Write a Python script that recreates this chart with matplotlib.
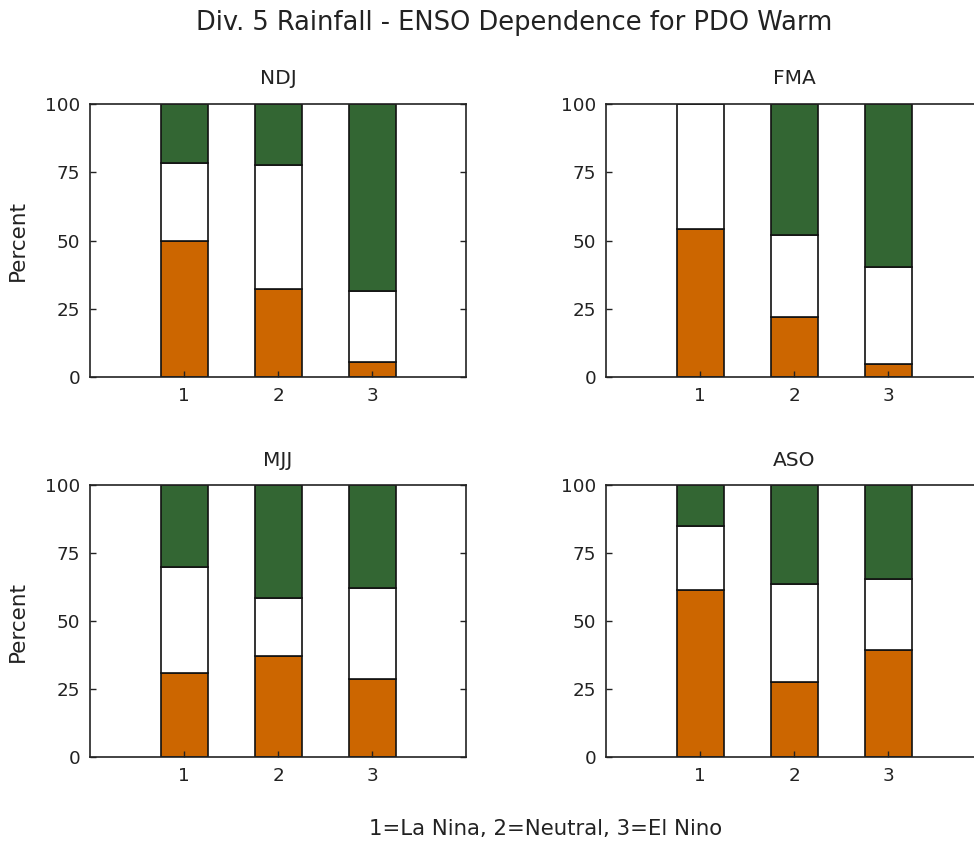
import matplotlib
matplotlib.use("Agg")
import matplotlib.pyplot as plt
import numpy as np

plt.rcParams['font.family'] = ['DejaVu Sans']

categories = [1, 2, 3]
seasons = ["NDJ", "FMA", "MJJ", "ASO"]
# below normal (orange), near normal (white), above normal (green)
below = {"NDJ": [50.0, 32.1, 5.6], "FMA": [54.3, 21.8, 4.9],
         "MJJ": [30.7, 37.2, 28.5], "ASO": [61.5, 27.7, 39.5]}
normal = {"NDJ": [28.5, 45.7, 25.8], "FMA": [45.7, 30.2, 35.5],
          "MJJ": [39.0, 21.4, 33.8], "ASO": [23.5, 36.0, 25.8]}
above = {"NDJ": [21.5, 22.2, 68.6], "FMA": [0.0, 48.0, 59.6],
         "MJJ": [30.3, 41.4, 37.7], "ASO": [15.0, 36.3, 34.7]}
yticks = [0, 25, 50, 75, 100]

c_below = "#cc6600"
c_normal = "#ffffff"
c_above = "#336633"
txt = "#222222"

fig = plt.figure(figsize=(9.74, 8.48), dpi=100)
W = 974.0
H = 848.0
positions = {
    "NDJ": (90 / W, 1 - 377 / H, 376 / W, 273 / H),
    "FMA": (606 / W, 1 - 377 / H, 376 / W, 273 / H),
    "MJJ": (90 / W, 1 - 757 / H, 376 / W, 272 / H),
    "ASO": (606 / W, 1 - 757 / H, 376 / W, 272 / H),
}

for s in seasons:
    ax = fig.add_axes(positions[s])
    b = np.array(below[s])
    n = np.array(normal[s])
    a = np.array(above[s])
    kw = dict(width=0.5, edgecolor="#111111", linewidth=1.2)
    ax.bar(categories, b, color=c_below, **kw)
    ax.bar(categories, n, bottom=b, color=c_normal, **kw)
    ax.bar(categories, a, bottom=b + n, color=c_above, **kw)
    ax.set_xlim(0, 4)
    ax.set_ylim(0, 100)
    ax.set_xticks(categories)
    ax.set_yticks(yticks)
    ax.tick_params(direction="in", length=4, labelsize=13.2, top=False,
                   right=True, width=1, colors=txt, labelcolor=txt)
    ax.tick_params(axis="y", pad=7)
    ax.tick_params(axis="x", pad=7)
    for sp in ax.spines.values():
        sp.set_linewidth(1.2)
        sp.set_color(txt)
    ax.text(0.5, 1 + 25 / 273, s, transform=ax.transAxes, ha="center",
            va="center", fontsize=14.5, color=txt)
    if s in ("NDJ", "MJJ"):
        ax.set_ylabel("Percent", fontsize=15.5, color=txt)
        ax.yaxis.set_label_coords(-0.165, 0.5)

fig.text(514 / W, 1 - 23 / H, "Div. 5 Rainfall - ENSO Dependence for PDO Warm",
         ha="center", va="center", fontsize=18.5, color=txt)
fig.text(546 / W, 1 - 829 / H, "1=La Nina, 2=Neutral, 3=El Nino",
         ha="center", va="center", fontsize=15.3, color=txt)

fig.savefig("out.png", dpi=100)
